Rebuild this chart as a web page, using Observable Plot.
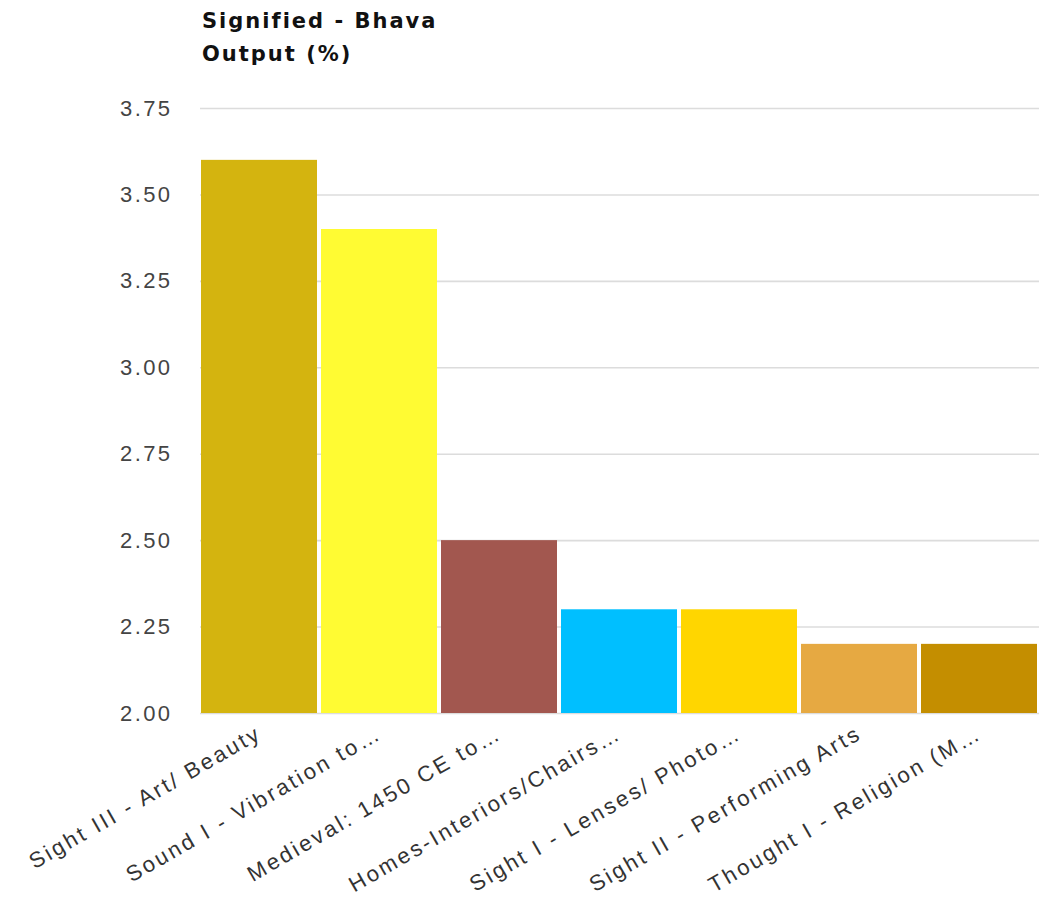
<!DOCTYPE html>
<html>
<head>
<meta charset="utf-8">
<script src="https://cdn.jsdelivr.net/npm/d3@7"></script>
<script src="https://cdn.jsdelivr.net/npm/@observablehq/plot@0.6"></script>
<style>
  html, body { margin: 0; padding: 0; background: #fff; }
  #wrap { position: relative; width: 1046px; height: 900px; }
  #title { position: absolute; left: 202px; top: 5px; font-family: "DejaVu Sans", Verdana, sans-serif; font-weight: bold; font-size: 21px; letter-spacing: 2px; line-height: 33px; color: #111; }
  #chart { position: absolute; left: 0; top: 0; }
  #chart svg g[aria-label="y-axis tick label"] text { letter-spacing: 2.4px; font-size: 22px; }
  #chart svg g[aria-label="x-axis tick label"] text { letter-spacing: 2.7px; font-size: 22px; }
</style>
</head>
<body>
<div id="wrap">
  <div id="chart"></div>
  <div id="title">Signified - Bhava<br>Output (%)</div>
</div>
<script>
const categories = [
  "Sight III - Art/ Beauty",
  "Sound I - Vibration to…",
  "Medieval: 1450 CE to…",
  "Homes-Interiors/Chairs…",
  "Sight I - Lenses/ Photo…",
  "Sight II - Performing Arts",
  "Thought I - Religion (M…"
];
const values = [3.6, 3.4, 2.5, 2.3, 2.3, 2.2, 2.2];
const colors = ["#D4B40F", "#FFFB33", "#A2574F", "#00BFFF", "#FFD600", "#E6A942", "#C48E00"];
const yTicks = [2.0, 2.25, 2.5, 2.75, 3.0, 3.25, 3.5, 3.75];

const data = categories.map((c, i) => ({category: c, value: values[i]}));

const chart = Plot.plot({
  width: 1046,
  height: 900,
  marginTop: 108,
  marginBottom: 187,
  marginLeft: 200,
  marginRight: 7,
  style: {fontFamily: "'Liberation Sans', Arial, sans-serif", fontSize: "22px", color: "#333", background: "#fff"},
  x: {domain: categories, label: null, paddingInner: 0.03, paddingOuter: 0},
  y: {domain: [2, 3.75], label: null},
  color: {domain: categories, range: colors},
  marks: [
    Plot.gridY(yTicks, {stroke: "#dcdcdc", strokeOpacity: 1, strokeWidth: 1.6}),
    Plot.rectY(data, {x: "category", y1: 2, y2: "value", fill: "category"}),
    Plot.axisY({ticks: yTicks, tickFormat: d3.format(".2f"), tickSize: 0, tickPadding: 28, fill: "#444"}),
    Plot.axisX({tickSize: 0, tickPadding: 18, tickRotate: -30, fill: "#333"})
  ]
});
document.getElementById("chart").appendChild(chart);
</script>
</body>
</html>
